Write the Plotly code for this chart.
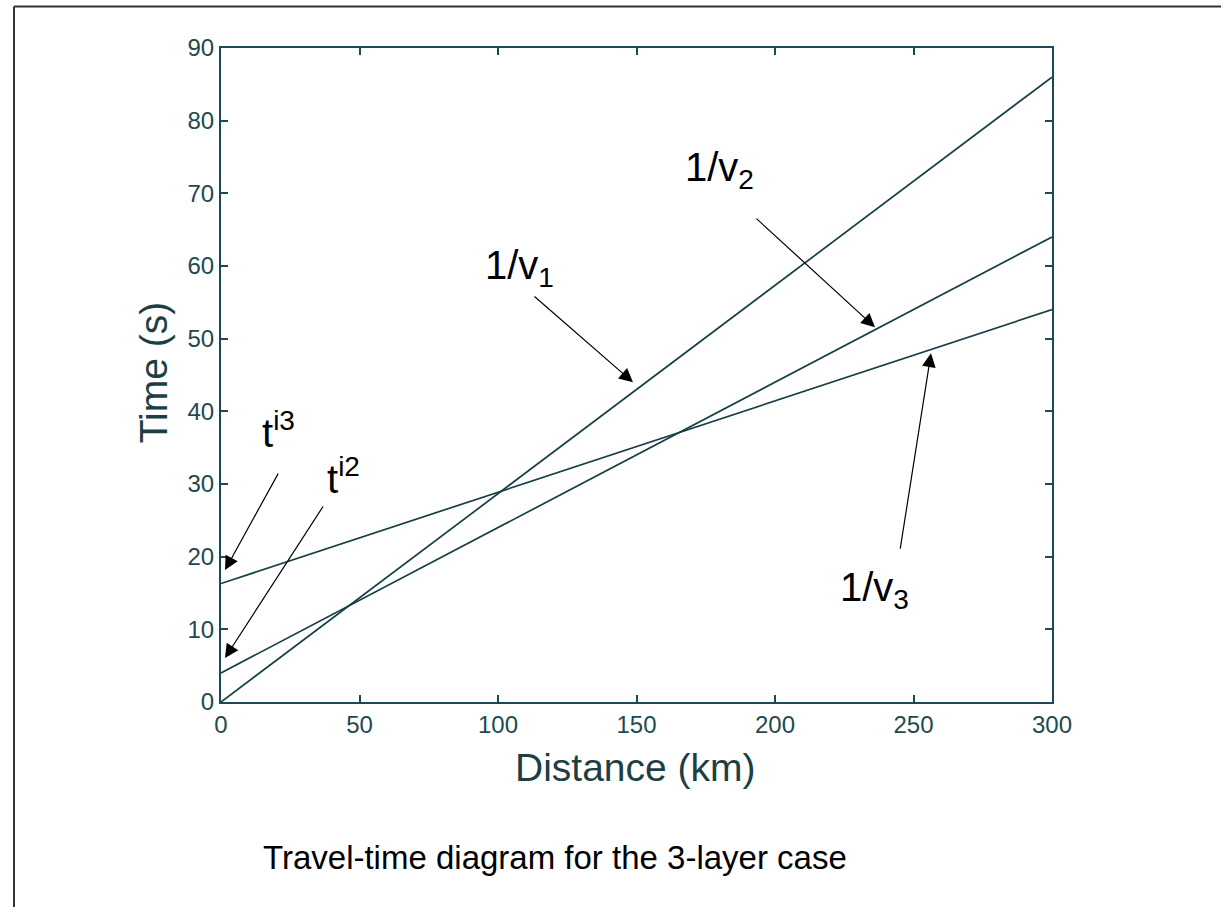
import plotly.graph_objects as go

# Data: straight travel-time branches (distance km, time s)
distance = [0, 300]
t_direct = [0, 86]      # 1/v1
t_refr2 = [4, 64]       # 1/v2, intercept t_i2
t_refr3 = [16.3, 54]    # 1/v3, intercept t_i3

x_ticks = [0, 50, 100, 150, 200, 250, 300]
y_ticks = [0, 10, 20, 30, 40, 50, 60, 70, 80, 90]

LINE_C = "#163f45"
AX_C = "#1c4a50"

fig = go.Figure()
for t in (t_direct, t_refr2, t_refr3):
    fig.add_trace(go.Scatter(x=distance, y=t, mode="lines",
                             line=dict(color=LINE_C, width=1.7),
                             showlegend=False, hoverinfo="skip"))

W, H = 1221, 907
L, R, T, B = 221, 1052, 47.5, 702


def px(xp):
    return (xp - L) / (R - L)


def py(yp):
    return (B - yp) / (B - T)


def dx(xp):
    return (xp - L) / (R - L) * 300


def dy(yp):
    return (B - yp) / (B - T) * 90


ann = []
lab_font = dict(family="Arial, Liberation Sans", size=40, color="black")
labels = [
    ("1/v<sub>1</sub>", 519, 268),
    ("1/v<sub>2</sub>", 719, 170),
    ("1/v<sub>3</sub>", 874, 590),
    ("t<sup>i3</sup>", 278, 430),
    ("t<sup>i2</sup>", 343, 476),
]
for txt, xp, yp in labels:
    ann.append(dict(text=txt, x=dx(xp), y=dy(yp), xref="x", yref="y",
                    showarrow=False, font=lab_font,
                    xanchor="center", yanchor="middle"))

arrows = [
    (633, 382, 533, 295),
    (875, 327, 755, 217),
    (931, 353, 900, 550),
    (225, 570, 279, 472),
    (225, 658, 324, 505),
]
for tx, ty, sx, sy in arrows:
    ann.append(dict(text="", x=dx(tx), y=dy(ty), xref="x", yref="y",
                    ax=sx - tx, ay=sy - ty, axref="pixel", ayref="pixel",
                    showarrow=True, arrowhead=2, arrowsize=2.3,
                    arrowwidth=1.2, arrowcolor="black", standoff=0))

ann.append(dict(text="Distance (km)", x=px(635), y=py(768), xref="paper",
                yref="paper", showarrow=False,
                font=dict(family="Arial, Liberation Sans", size=39, color="#1d3f44"),
                xanchor="center", yanchor="middle"))
ann.append(dict(text="Time (s)", x=px(153), y=py(372), xref="paper",
                yref="paper", showarrow=False, textangle=-90,
                font=dict(family="Arial, Liberation Sans", size=39, color="#1d3f44"),
                xanchor="center", yanchor="middle"))
ann.append(dict(text="Travel-time diagram for the 3-layer case", x=px(555),
                y=py(858), xref="paper", yref="paper", showarrow=False,
                font=dict(family="Arial, Liberation Sans", size=33, color="black"),
                xanchor="center", yanchor="middle"))

shapes = [
    dict(type="line", xref="paper", yref="paper", x0=px(14), x1=px(14),
         y0=py(6), y1=py(915), line=dict(color="#333333", width=2)),
    dict(type="line", xref="paper", yref="paper", x0=px(14), x1=px(1230),
         y0=py(6), y1=py(6), line=dict(color="#333333", width=2)),
]

tick_font = dict(family="Arial, Liberation Sans", size=24, color=AX_C)
fig.update_layout(
    width=W, height=H,
    margin=dict(l=L, r=W - R, t=T, b=H - B, pad=0),
    paper_bgcolor="white", plot_bgcolor="white",
    annotations=ann, shapes=shapes,
    xaxis=dict(range=[0, 300], tickvals=x_ticks, ticks="inside", ticklen=7,
               tickcolor=AX_C, tickwidth=1.5, showline=True, linecolor=AX_C,
               linewidth=2, mirror="ticks", showgrid=False, zeroline=False,
               tickfont=tick_font, fixedrange=True),
    yaxis=dict(range=[0, 90], tickvals=y_ticks, ticks="inside", ticklen=7,
               tickcolor=AX_C, tickwidth=1.5, showline=True, linecolor=AX_C,
               linewidth=2, mirror="ticks", showgrid=False, zeroline=False,
               tickfont=tick_font, fixedrange=True),
)

fig.write_html("out.html")
